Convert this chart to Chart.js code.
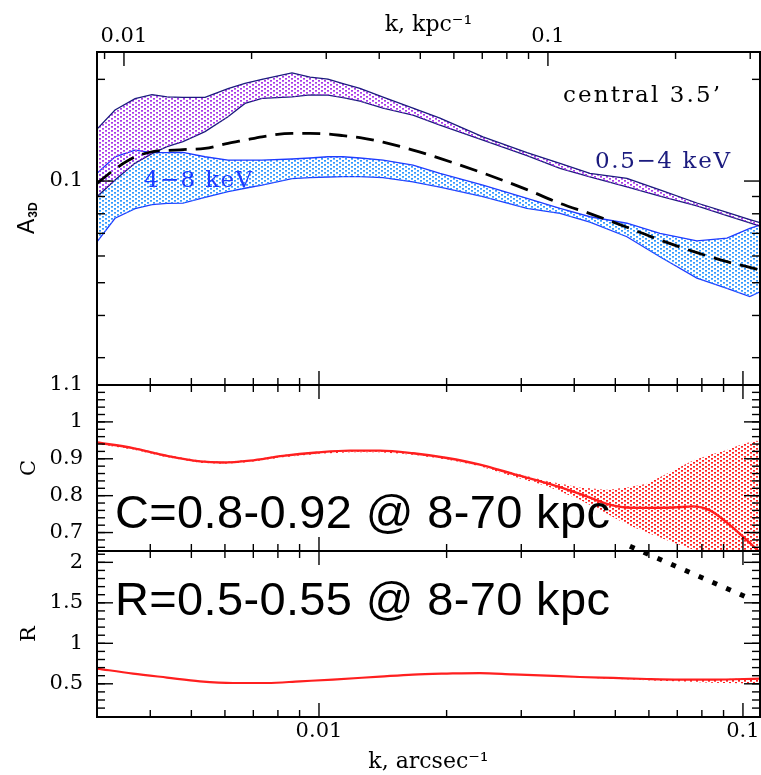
<!DOCTYPE html>
<html>
<head>
<meta charset="utf-8">
<script src="https://cdn.jsdelivr.net/npm/chart.js@4.4.0/dist/chart.umd.min.js"></script>
<style>
  body { margin: 0; background: #fff; }
  #wrap { position: relative; width: 761px; height: 775px; }
  canvas { position: absolute; left: 0; top: 0; }
</style>
</head>
<body>
<div id="wrap">
  <canvas id="cA" width="761" height="775"></canvas>
  <canvas id="cB" width="761" height="775"></canvas>
  <canvas id="cC" width="761" height="775"></canvas>
</div>
<script>
// ---- top panel: amplitude A3D vs k (arcsec^-1)
const kA = [0.002995, 0.003303, 0.003683, 0.004037, 0.00438, 0.004777, 0.005384, 0.006101, 0.00669, 0.007337,
  0.008636, 0.009524, 0.0105, 0.01139, 0.01249, 0.01416, 0.01666, 0.01929, 0.02436, 0.03095,
  0.03702, 0.04356, 0.05325, 0.0637, 0.07787, 0.09169, 0.1038, 0.1097];
const softHi = [0.1425, 0.1623, 0.1754, 0.1803, 0.1776, 0.1768, 0.1768, 0.1878, 0.1945, 0.1999,
  0.2091, 0.2031, 0.2003, 0.1943, 0.1881, 0.1772, 0.1644, 0.1536, 0.1352, 0.1214,
  0.1128, 0.1054, 0.1019, 0.0941, 0.0861, 0.0808, 0.0769, 0.0753];
const softLo = [0.0899, 0.1007, 0.113, 0.1206, 0.1265, 0.1309, 0.1401, 0.1549, 0.1698, 0.1756,
  0.1776, 0.18, 0.1797, 0.1766, 0.1724, 0.1644, 0.1567, 0.1464, 0.1322, 0.119,
  0.109, 0.1028, 0.0961, 0.0903, 0.0844, 0.079, 0.0752, 0.0736];
const hardHi = [0.1054, 0.118, 0.1235, 0.1213, 0.1214, 0.1216, 0.118, 0.1154, 0.1154, 0.1154,
  0.1162, 0.117, 0.118, 0.118, 0.117, 0.1154, 0.1115, 0.1054, 0.0973, 0.0889,
  0.083, 0.0784, 0.075, 0.07, 0.0665, 0.0678, 0.0724, 0.0741];
const hardLo = [0.0661, 0.0776, 0.0828, 0.0852, 0.0859, 0.086, 0.0894, 0.093, 0.0952, 0.0973,
  0.1017, 0.1024, 0.1028, 0.103, 0.103, 0.1024, 0.0995, 0.096, 0.0899, 0.083,
  0.0802, 0.0756, 0.0684, 0.0597, 0.0516, 0.0481, 0.0455, 0.047];
const model = [0.0984, 0.1085, 0.1178, 0.1221, 0.1231, 0.1239, 0.1249, 0.1293, 0.1322, 0.1352,
  0.1384, 0.1384, 0.1377, 0.1363, 0.1345, 0.1304, 0.1235, 0.1167, 0.1056, 0.0943,
  0.0859, 0.0801, 0.073, 0.0669, 0.0614, 0.0577, 0.0555, 0.0545];

// ---- middle panel: coherence C
const kC = [0.002995, 0.003641, 0.00438, 0.005239, 0.005937, 0.006876, 0.008226, 0.009892, 0.01183, 0.01393,
  0.01666, 0.02004, 0.02397, 0.02868, 0.03448, 0.04125, 0.04777, 0.05325, 0.05935, 0.06838,
  0.07621, 0.08357, 0.09169, 0.1, 0.1079, 0.1097];
const cLine = [0.944, 0.929, 0.908, 0.893, 0.89, 0.895, 0.908, 0.917, 0.922, 0.922,
  0.915, 0.902, 0.884, 0.859, 0.834, 0.805, 0.778, 0.768, 0.767, 0.768,
  0.771, 0.76, 0.727, 0.689, 0.654, 0.646];
const cHi = [0.946, 0.931, 0.91, 0.895, 0.892, 0.897, 0.91, 0.919, 0.924, 0.924,
  0.917, 0.904, 0.886, 0.862, 0.84, 0.822, 0.816, 0.822, 0.832, 0.868,
  0.895, 0.911, 0.924, 0.941, 0.949, 0.946];
const cLo = [0.94, 0.925, 0.904, 0.889, 0.886, 0.891, 0.904, 0.913, 0.918, 0.918,
  0.911, 0.898, 0.88, 0.852, 0.826, 0.789, 0.751, 0.722, 0.7, 0.673,
  0.654, 0.638, 0.622, 0.605, 0.595, 0.592];

// ---- bottom panel: ratio R
const kR = [0.002995, 0.003641, 0.00438, 0.005239, 0.006268, 0.007541, 0.00902, 0.01079, 0.01393, 0.01666,
  0.02004, 0.02397, 0.02868, 0.03448, 0.04125, 0.04935, 0.05935, 0.07102, 0.08495, 0.1097];
const rLine = [0.688, 0.626, 0.577, 0.531, 0.51, 0.51, 0.531, 0.552, 0.589, 0.614,
  0.626, 0.633, 0.617, 0.601, 0.584, 0.572, 0.559, 0.552, 0.552, 0.564];
const rHi = [0.69, 0.628, 0.579, 0.533, 0.512, 0.512, 0.533, 0.554, 0.591, 0.616,
  0.628, 0.635, 0.619, 0.603, 0.586, 0.575, 0.562, 0.556, 0.557, 0.57];
const rLo = [0.686, 0.624, 0.575, 0.529, 0.508, 0.508, 0.529, 0.55, 0.587, 0.612,
  0.624, 0.631, 0.615, 0.597, 0.578, 0.562, 0.545, 0.528, 0.512, 0.5];
const kDots = [0.05413, 0.105];
const rDots = [2.198, 1.541];

// ---- axes
const arcsecMajor = [0.01, 0.1];
const kpcMajor = [0.01, 0.1];
const aMajor = [0.1];
const cMajor = [0.7, 0.8, 0.9, 1, 1.1];
const rMajor = [0.5, 1, 1.5, 2];

const X_MIN = 0.002995, X_MAX = 0.1097;
const K_KPC = 2.884;  // kpc^-1 per arcsec^-1

const NAVY = '#1b1b7e', BLUE = '#1f3cff', PURPLE = '#a93ae8', SKY = '#3399ff', RED = '#ff1f1f';

Chart.defaults.font.family = 'DejaVu Serif';
Chart.defaults.font.size = 21;
Chart.defaults.color = '#000';

const pts = (xs, ys) => xs.map((x, i) => ({ x: x, y: ys[i] }));

function logMinors(lo, hi) {
  const out = [];
  for (let e = -4; e <= 1; e++) {
    for (let m = 2; m < 10; m++) {
      const v = m * Math.pow(10, e);
      if (v > lo && v < hi) out.push(v);
    }
  }
  return out;
}
function linMinors(lo, hi, step) {
  const out = [];
  for (let v = Math.ceil(lo / step) * step; v < hi; v += step) out.push(v);
  return out;
}

function hatch(canvasId, color) {
  const t = document.createElement('canvas');
  t.width = 6; t.height = 4;
  const g = t.getContext('2d');
  g.fillStyle = color;
  g.fillRect(0, 0, 2, 1.7);
  g.fillRect(3, 2, 2, 1.7);
  return document.getElementById(canvasId).getContext('2d').createPattern(t, 'repeat');
}

function putText(ctx, t) {
  ctx.font = t.font;
  ctx.fillStyle = t.color || '#000';
  ctx.textAlign = 'left';
  ctx.textBaseline = 'alphabetic';
  if (t.width && 'letterSpacing' in ctx) {
    const n = [...t.text].length;
    const w = ctx.measureText(t.text).width;
    ctx.letterSpacing = ((t.width - w) / (n - 1)).toFixed(2) + 'px';
  }
  ctx.fillText(t.text, t.x, t.y);
  if ('letterSpacing' in ctx) ctx.letterSpacing = '0px';
}

// inward ticks on all four sides + box + labels
function framePlugin(cfg) {
  return {
    id: 'frame',
    afterDraw(chart) {
      const ctx = chart.ctx, a = chart.chartArea;
      const xs = chart.scales.x, ys = chart.scales.y;
      const top = chart.scales[cfg.topScale || 'x'];
      ctx.save();
      ctx.strokeStyle = '#000';
      ctx.lineWidth = 1.4;
      const xt = (scale, v, len, edge, dir) => {
        const p = scale.getPixelForValue(v);
        if (p < a.left + 1 || p > a.right - 1) return;
        ctx.beginPath(); ctx.moveTo(p, edge); ctx.lineTo(p, edge + dir * len); ctx.stroke();
      };
      const yt = (v, len) => {
        const p = ys.getPixelForValue(v);
        if (p < a.top + 1 || p > a.bottom - 1) return;
        ctx.beginPath(); ctx.moveTo(a.left, p); ctx.lineTo(a.left + len, p); ctx.stroke();
        ctx.beginPath(); ctx.moveTo(a.right, p); ctx.lineTo(a.right - len, p); ctx.stroke();
      };
      arcsecMajor.forEach(v => xt(xs, v, 14, a.bottom, -1));
      logMinors(X_MIN, X_MAX).forEach(v => xt(xs, v, 7, a.bottom, -1));
      cfg.topMajor.forEach(v => xt(top, v, 14, a.top, 1));
      logMinors(top.min, top.max).forEach(v => xt(top, v, 7, a.top, 1));
      cfg.yMajor.forEach(v => yt(v, 16));
      cfg.yMinor.forEach(v => yt(v, 8));
      ctx.lineWidth = 2;
      ctx.strokeRect(a.left, a.top, a.right - a.left, a.bottom - a.top);
      (cfg.texts || []).forEach(t => putText(ctx, t));
      if (cfg.extra) cfg.extra(ctx, a);
      ctx.restore();
    }
  };
}

const hiddenX = { type: 'logarithmic', min: X_MIN, max: X_MAX, display: false };
const baseOpts = {
  responsive: false,
  animation: false,
  events: [],
  elements: { point: { radius: 0 }, line: { tension: 0 } },
  plugins: { legend: { display: false }, tooltip: { enabled: false } }
};
const yTicks = (values, fmt) => ({
  grid: { display: false },
  border: { display: false },
  afterFit: s => { s.width = 97; },
  afterBuildTicks: s => { s.ticks = values.map(v => ({ value: v })); },
  ticks: { padding: 6, autoSkip: false, callback: fmt }
});

// ---- top panel
new Chart(document.getElementById('cA'), {
  type: 'line',
  data: {
    datasets: [
      { data: pts(kA, softHi), borderColor: NAVY, borderWidth: 1.3, fill: '+1', backgroundColor: hatch('cA', PURPLE) },
      { data: pts(kA, softLo), borderColor: NAVY, borderWidth: 1.3, fill: false },
      { data: pts(kA, hardHi), borderColor: BLUE, borderWidth: 1.3, fill: '+1', backgroundColor: hatch('cA', SKY) },
      { data: pts(kA, hardLo), borderColor: BLUE, borderWidth: 1.3, fill: false },
      { data: pts(kA, model), borderColor: '#000', borderWidth: 2.8, borderDash: [18, 9], fill: false,
        cubicInterpolationMode: 'monotone', order: -1 }
    ]
  },
  options: Object.assign({}, baseOpts, {
    layout: { padding: { left: 0, right: 1, top: 0, bottom: 390 } },
    scales: {
      x: hiddenX,
      xTop: {
        type: 'logarithmic', position: 'top', min: X_MIN * K_KPC, max: X_MAX * K_KPC,
        grid: { display: false }, border: { display: false },
        afterFit: s => { s.height = 52; },
        afterBuildTicks: s => { s.ticks = kpcMajor.map(v => ({ value: v })); },
        ticks: { padding: -5, autoSkip: false, maxRotation: 0, callback: v => String(v) },
        title: { display: true, text: 'k, kpc⁻¹', font: { size: 22 }, padding: { top: 12, bottom: 0 } }
      },
      y: Object.assign({ type: 'logarithmic', min: 0.0249, max: 0.241 }, yTicks(aMajor, v => String(v)))
    }
  }),
  plugins: [framePlugin({
    topScale: 'xTop', topMajor: kpcMajor,
    yMajor: aMajor, yMinor: logMinors(0.0249, 0.241),
    texts: [
      { text: 'central 3.5\u2019', x: 563, y: 102, font: '23px "DejaVu Serif"', color: '#000', width: 157 },
      { text: '0.5\u22124 keV', x: 595, y: 168, font: '23px "DejaVu Serif"', color: NAVY, width: 135 },
      { text: '4\u22128 keV', x: 144, y: 187, font: '23px "DejaVu Serif"', color: BLUE, width: 108 }
    ],
    extra: (ctx) => {
      ctx.save();
      ctx.translate(34, 234);
      ctx.rotate(-Math.PI / 2);
      ctx.fillStyle = '#000';
      ctx.textAlign = 'left';
      ctx.textBaseline = 'alphabetic';
      ctx.font = '23px "Liberation Sans"';
      ctx.fillText('A', 0, 0);
      const w = ctx.measureText('A').width;
      ctx.font = 'bold 12px "Liberation Sans"';
      ctx.fillText('3D', w + 1, 3);
      ctx.restore();
    }
  })]
});

// ---- middle panel
new Chart(document.getElementById('cB'), {
  type: 'line',
  data: {
    datasets: [
      { data: pts(kC, cHi), borderWidth: 0, borderColor: 'rgba(0,0,0,0)', fill: '+1', backgroundColor: hatch('cB', RED) },
      { data: pts(kC, cLo), borderWidth: 0, borderColor: 'rgba(0,0,0,0)', fill: false },
      { data: pts(kC, cLine), borderColor: RED, borderWidth: 2.4, fill: false, cubicInterpolationMode: 'monotone', order: -1 }
    ]
  },
  options: Object.assign({}, baseOpts, {
    layout: { padding: { left: 0, right: 1, top: 385, bottom: 224 } },
    scales: {
      x: hiddenX,
      y: Object.assign({ type: 'linear', min: 0.65, max: 1.1,
        title: { display: true, text: 'C', padding: { top: 17, bottom: 0 } } },
        yTicks(cMajor, v => String(+v.toFixed(2))))
    }
  }),
  plugins: [framePlugin({
    topMajor: arcsecMajor,
    yMajor: cMajor, yMinor: linMinors(0.66, 1.09, 0.02),
    texts: [
      { text: 'C=0.8-0.92 @ 8-70 kpc', x: 115, y: 528, font: '47px "Liberation Sans"', color: '#000', width: 495 }
    ]
  })]
});

// ---- bottom panel
new Chart(document.getElementById('cC'), {
  type: 'line',
  data: {
    datasets: [
      { data: pts(kR, rHi), borderWidth: 0, borderColor: 'rgba(0,0,0,0)', fill: '+1', backgroundColor: hatch('cC', RED) },
      { data: pts(kR, rLo), borderWidth: 0, borderColor: 'rgba(0,0,0,0)', fill: false },
      { data: pts(kR, rLine), borderColor: RED, borderWidth: 2.2, fill: false, cubicInterpolationMode: 'monotone', order: -1 },
      { data: pts(kDots, rDots), borderColor: '#000', borderWidth: 5, borderDash: [5, 10], fill: false, clip: false, order: -2 }
    ]
  },
  options: Object.assign({}, baseOpts, {
    layout: { padding: { left: 0, right: 1, top: 551, bottom: 0 } },
    scales: {
      x: {
        type: 'logarithmic', position: 'bottom', min: X_MIN, max: X_MAX,
        grid: { display: false }, border: { display: false },
        afterFit: s => { s.height = 58; },
        afterBuildTicks: s => { s.ticks = arcsecMajor.map(v => ({ value: v })); },
        ticks: { padding: -6, autoSkip: false, maxRotation: 0, callback: v => String(v) },
        title: { display: true, text: 'k, arcsec⁻¹', font: { size: 22 }, padding: { top: 0, bottom: 0 } }
      },
      y: Object.assign({ type: 'linear', min: 0.09, max: 2.14,
        title: { display: true, text: 'R', padding: { top: 17, bottom: 0 } } },
        yTicks(rMajor, v => String(v)))
    }
  }),
  plugins: [framePlugin({
    topMajor: arcsecMajor,
    yMajor: rMajor, yMinor: linMinors(0.1, 2.13, 0.1),
    texts: [
      { text: 'R=0.5-0.55 @ 8-70 kpc', x: 115, y: 615, font: '47px "Liberation Sans"', color: '#000', width: 495 }
    ]
  })]
});
</script>
</body>
</html>
